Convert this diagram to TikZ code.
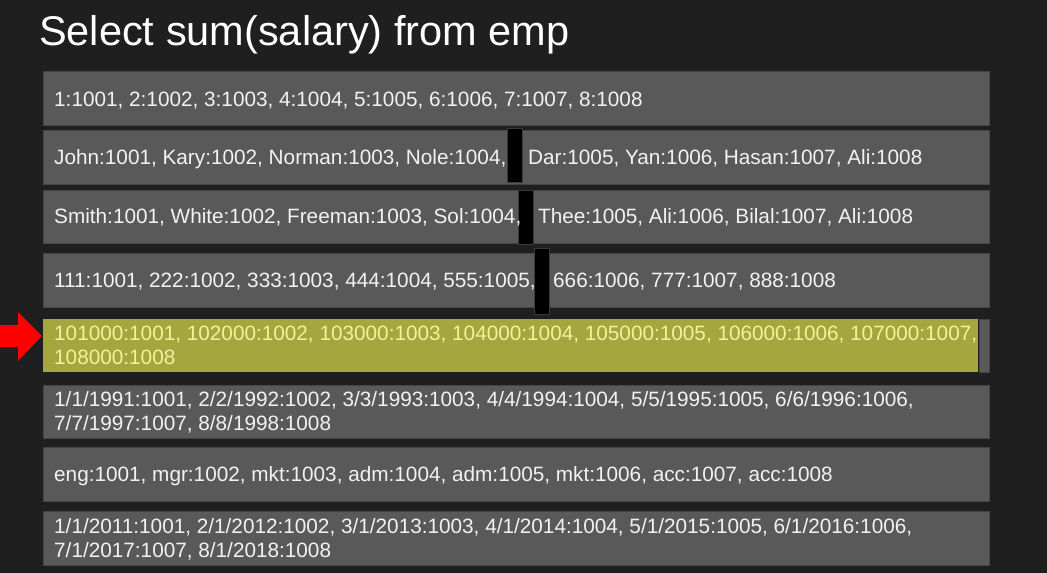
\documentclass[tikz,border=0pt]{standalone}
\usepackage{fontspec}
\setmainfont{Liberation Sans}
\definecolor{bgc}{HTML}{1F1F1F}
\definecolor{boxc}{HTML}{595959}
\definecolor{boxb}{HTML}{454545}
\definecolor{txtc}{HTML}{F2F2F2}
\definecolor{hlc}{HTML}{A6A63E}
\definecolor{hltxt}{HTML}{F2F29E}
\definecolor{barb}{HTML}{3A3A3A}
\tikzset{
  rowbox/.style={draw=boxb, fill=boxc, line width=1pt, inner sep=0pt, outer sep=0pt, anchor=north west, minimum width=946pt, minimum height=54pt},
  hlbox/.style={fill=hlc, inner sep=0pt, outer sep=0pt, anchor=north west, minimum width=935pt, minimum height=53pt},
  stripbox/.style={draw=boxb, fill=boxc, line width=1pt, inner sep=0pt, outer sep=0pt, anchor=north west, minimum width=10pt, minimum height=53pt},
  blackbar/.style={draw=barb, fill=black, line width=1pt, inner sep=0pt, outer sep=0pt, anchor=north west, minimum width=15pt},
  rowtext/.style={text=txtc, inner sep=0pt, anchor=base west, font=\fontsize{20.75}{24}\selectfont},
  hltext/.style={rowtext, text=hltxt},
  titletext/.style={text=white, inner sep=0pt, anchor=base west, font=\fontsize{41.5}{48}\selectfont}
}
\begin{document}
\begin{tikzpicture}[x=1pt,y=-1pt]
\fill[bgc] (0,0) rectangle (1047,573);
\useasboundingbox (0,0) rectangle (1047,573);
\node[titletext] (title) at (39,45) {Select sum(salary) from emp};
% rows
\node[rowbox] (r1) at (43,71) {};
\node[rowbox] (r2) at (43,130) {};
\node[rowbox, minimum height=53pt] (r3) at (43,190) {};
\node[rowbox] (r4) at (43,253) {};
\node[hlbox] (r5) at (43,319) {};
\node[stripbox] (r5s) at (979,319) {};
\node[rowbox, minimum height=53pt] (r6) at (43,385) {};
\node[rowbox] (r7) at (43,447) {};
\node[rowbox] (r8) at (43,511) {};
% black bars
\node[blackbar, minimum height=54pt] (b2) at (507.5,128) {};
\node[blackbar, minimum height=54pt] (b3) at (518,190) {};
\node[blackbar, minimum height=66pt] (b4) at (534,248) {};
% texts
\node[rowtext] (t1) at (54,106) {1:1001, 2:1002, 3:1003, 4:1004, 5:1005, 6:1006, 7:1007, 8:1008};
\node[rowtext] (t2a) at (54,164.5) {John:1001, Kary:1002, Norman:1003, Nole:1004,};
\node[rowtext] (t2b) at (528,164.5) {Dar:1005, Yan:1006, Hasan:1007, Ali:1008};
\node[rowtext] (t3a) at (54,223.5) {Smith:1001, White:1002, Freeman:1003, Sol:1004,};
\node[rowtext] (t3b) at (538,223.5) {Thee:1005, Ali:1006, Bilal:1007, Ali:1008};
\node[rowtext] (t4a) at (54,287) {111:1001, 222:1002, 333:1003, 444:1004, 555:1005,};
\node[rowtext] (t4b) at (553,287) {666:1006, 777:1007, 888:1008};
\node[hltext] (t5a) at (54,340.5) {101000:1001, 102000:1002, 103000:1003, 104000:1004, 105000:1005, 106000:1006, 107000:1007,};
\node[hltext] (t5b) at (54,364.5) {108000:1008};
\node[rowtext] (t6a) at (54,406.5) {1/1/1991:1001, 2/2/1992:1002, 3/3/1993:1003, 4/4/1994:1004, 5/5/1995:1005, 6/6/1996:1006,};
\node[rowtext] (t6b) at (54,430.5) {7/7/1997:1007, 8/8/1998:1008};
\node[rowtext] (t7) at (54,481.5) {eng:1001, mgr:1002, mkt:1003, adm:1004, adm:1005, mkt:1006, acc:1007, acc:1008};
\node[rowtext] (t8a) at (54,533.5) {1/1/2011:1001, 2/1/2012:1002, 3/1/2013:1003, 4/1/2014:1004, 5/1/2015:1005, 6/1/2016:1006,};
\node[rowtext] (t8b) at (54,557.5) {7/1/2017:1007, 8/1/2018:1008};
% red arrow
\fill[red] (0,325) -- (18,325) -- (18,312) -- (42,336) -- (18,361) -- (18,347) -- (0,347) -- cycle;
\end{tikzpicture}
\end{document}
